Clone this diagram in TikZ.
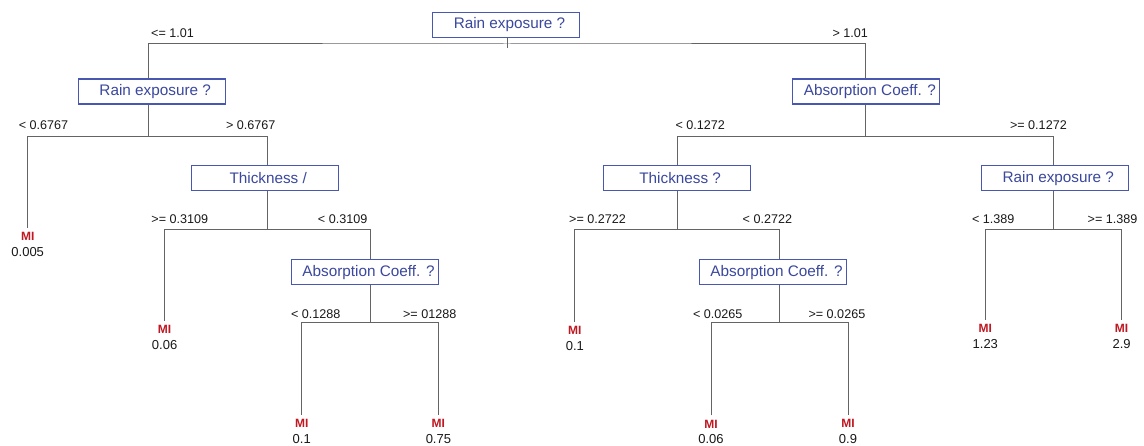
\documentclass[tikz,border=0pt]{standalone}
\usepackage{fontspec}
\setmainfont{Liberation Sans}
\definecolor{boxblue}{RGB}{72,88,176}
\definecolor{txtblue}{RGB}{58,72,158}
\definecolor{mired}{RGB}{192,24,34}
\definecolor{edgegray}{RGB}{100,100,100}
\definecolor{numcol}{RGB}{25,25,25}
\newcommand{\leaftxt}[1]{{\fontsize{12}{15.5}\selectfont\bfseries\color{mired}MI}\\#1}
\newcommand{\qtxt}[1]{\hspace*{7pt}#1}
\begin{document}
\begin{tikzpicture}[x=1pt,y=-1pt,
  qbox/.style={draw=boxblue,line width=1.1pt,minimum width=147pt,minimum height=25pt,
    inner sep=0pt,font=\fontsize{15.3}{18}\selectfont,text=txtblue},
  edge/.style={draw=edgegray,line width=1pt},
  cond/.style={font=\fontsize{12.6}{14}\selectfont,text=numcol,anchor=base,inner sep=0pt},
  leaf/.style={align=center,font=\fontsize{13}{15.5}\selectfont,text=numcol,anchor=north,
    inner sep=0pt,outer xsep=0pt,outer ysep=4.5pt},
]
\fill[white] (0,0) rectangle (1144,446);
\useasboundingbox (0,0) rectangle (1144,446);

% question boxes
\node[qbox] (b1) at (506,24.8) {\qtxt{Rain exposure ?}};
\node[qbox] (b2) at (151.7,91.5) {\qtxt{Rain exposure ?}};
\node[qbox] (b3) at (866.4,91.5) {\qtxt{Absorption Coeff. ?}};
\node[qbox] (b4) at (264.7,178.2) {\qtxt{Thickness /}};
\node[qbox] (b5) at (365,272.3) {\qtxt{Absorption Coeff. ?}};
\node[qbox] (b6) at (676.7,178.2) {\qtxt{Thickness ?}};
\node[qbox] (b7) at (1054.8,178.2) {\qtxt{Rain exposure ?}};
\node[qbox] (b8) at (773,272.3) {\qtxt{Absorption Coeff. ?}};

% junctions (bar centres)
\coordinate (j0) at (507,44);
\coordinate (j2) at (148,136.5);
\coordinate (j3) at (865.4,136.5);
\coordinate (j4) at (267.5,229.5);
\coordinate (j5) at (370,322.5);
\coordinate (j6) at (677.7,229.5);
\coordinate (j7) at (1053.9,229.5);
\coordinate (j8) at (779.7,322.5);

% leaves
\node[leaf] (lA) at (27.7,228) {\leaftxt{0.005}};
\node[leaf] (lB) at (164.6,321) {\leaftxt{0.06}};
\node[leaf] (lC) at (301.7,415) {\leaftxt{0.1}};
\node[leaf] (lD) at (438.4,415) {\leaftxt{0.75}};
\node[leaf] (lE) at (574.9,322) {\leaftxt{0.1}};
\node[leaf] (lF) at (711,415.5) {\leaftxt{0.06}};
\node[leaf] (lG) at (848,415) {\leaftxt{0.9}};
\node[leaf] (lH) at (985.3,320) {\leaftxt{1.23}};
\node[leaf] (lI) at (1121.6,320) {\leaftxt{2.9}};

% connectors
\draw[edge] ([yshift=6pt]j0) -- ([yshift=-4pt]j0);
\draw[edge] (b2.north -| j2) |- (j0) -| (b3.north -| j3);

\draw[edge] (b2.south -| j2) -- (j2);
\draw[edge] (lA.north) |- (j2) -| (b4.north -| j4);

\draw[edge] (b3.south -| j3) -- (j3);
\draw[edge] (b6.north -| j6) |- (j3) -| (b7.north -| j7);

\draw[edge] (b4.south -| j4) -- (j4);
\draw[edge] (lB.north) |- (j4) -| (b5.north -| j5);

\draw[edge] (b5.south -| j5) -- (j5);
\draw[edge] (lC.north) |- (j5) -| (lD.north);

\draw[edge] (b6.south -| j6) -- (j6);
\draw[edge] (lE.north) |- (j6) -| (b8.north -| j8);

\draw[edge] (b8.south -| j8) -- (j8);
\draw[edge] (lF.north) |- (j8) -| (lG.north);

\draw[edge] (b7.south -| j7) -- (j7);
\draw[edge] (lH.north) |- (j7) -| (lI.north);

% condition labels
\node[cond] (c1) at (172.6,37.7) {<= 1.01};
\node[cond] (c2) at (850.3,37.7) {> 1.01};
\node[cond] (c3) at (43.5,130) {< 0.6767};
\node[cond] (c4) at (250.7,130) {> 0.6767};
\node[cond] (c5) at (700.2,130) {< 0.1272};
\node[cond] (c6) at (1038.4,130) {>= 0.1272};
\node[cond] (c7) at (179.8,224) {>= 0.3109};
\node[cond] (c8) at (342.6,224) {< 0.3109};
\node[cond] (c9) at (597.6,224) {>= 0.2722};
\node[cond] (c10) at (767.4,224) {< 0.2722};
\node[cond] (c11) at (993.3,224) {< 1.389};
\node[cond] (c12) at (1112.6,224) {>= 1.389};
\node[cond] (c13) at (315.8,318.3) {< 0.1288};
\node[cond] (c14) at (429.7,318.3) {>= 01288};
\node[cond] (c15) at (717.7,318.3) {< 0.0265};
\node[cond] (c16) at (836.9,318.3) {>= 0.0265};
\end{tikzpicture}
\end{document}
